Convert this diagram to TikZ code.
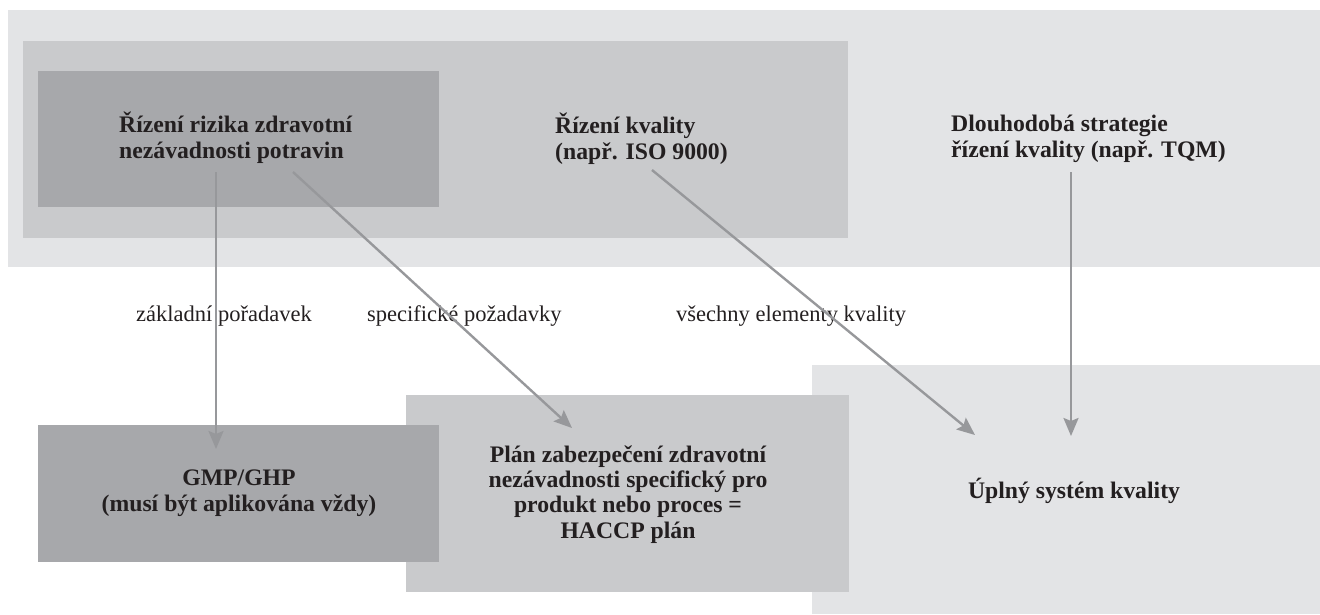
\documentclass[tikz,border=0pt]{standalone}
\usepackage{fontspec}
\setmainfont{Liberation Serif}
\usetikzlibrary{arrows.meta}
\definecolor{bandgrey}{HTML}{E3E4E6}
\definecolor{midgrey}{HTML}{C9CACC}
\definecolor{darkgrey}{HTML}{A7A8AB}
\definecolor{linkgrey}{HTML}{97989B}
\definecolor{ink}{HTML}{231F20}
\begin{document}
\begin{tikzpicture}[x=1pt,y=-1pt,
  panel/.style={draw=none, inner sep=0pt, outer sep=0pt, anchor=north west},
  title/.style={font=\fontsize{23.7}{25.3}\selectfont\bfseries, text=ink, inner sep=0pt},
  tag/.style={font=\fontsize{22.5}{25}\selectfont, text=ink, inner sep=0pt, anchor=base west},
  link/.style={draw=linkgrey, line width=2.4pt, -{Stealth[length=18pt,width=15pt,inset=3pt]}}]
\useasboundingbox (0,0) rectangle (1320,614);

% background panels
\node[panel, fill=bandgrey, minimum width=1312, minimum height=257] (band) at (8,10) {};
\node[panel, fill=midgrey, minimum width=825, minimum height=197] (quality) at (23,41) {};
\node[panel, fill=darkgrey, minimum width=401, minimum height=136] (risk) at (38,71) {};
\node[panel, fill=bandgrey, minimum width=508, minimum height=249] (total) at (812,365) {};
\node[panel, fill=midgrey, minimum width=443, minimum height=197] (haccp) at (406,395) {};
\node[panel, fill=darkgrey, minimum width=401, minimum height=137] (gmp) at (38,425) {};

% panel titles (base anchor = baseline of the last line)
\node[title, align=left, anchor=base west] (riskT) at (119,158) {Řízení rizika zdravotní\\nezávadnosti potravin};
\node[title, align=left, anchor=base west] (qualityT) at (555,159) {Řízení kvality\\(např. ISO 9000)};
\node[title, align=left, anchor=base west] (tqmT) at (951,157) {Dlouhodobá strategie\\řízení kvality (např. TQM)};
\node[title, align=center, anchor=base] (gmpT) at (239,511) {GMP/GHP\\(musí být aplikována vždy)};
\node[title, align=center, anchor=base] (haccpT) at (628,538) {Plán zabezpečení zdravotní\\nezávadnosti specifický pro\\produkt nebo proces =\\HACCP plán};
\node[title, anchor=base] (totalT) at (1074,498) {Úplný systém kvality};

% connector labels
\node[tag] (l1) at (136,321) {základní pořadavek};
\node[tag] (l2) at (367,321) {specifické požadavky};
\node[tag] (l3) at (676,321) {všechny elementy kvality};

% connectors
\coordinate (s1) at (216,172); \coordinate (e1) at (216,449);
\coordinate (s2) at (293,172); \coordinate (e2) at (572,428);
\coordinate (s3) at (652,170); \coordinate (e3) at (975,435);
\coordinate (s4) at (1071,172); \coordinate (e4) at (1071,436);
\draw[link] (s1) -- (e1);
\draw[link] (s2) -- (e2);
\draw[link] (s3) -- (e3);
\draw[link] (s4) -- (e4);
\end{tikzpicture}
\end{document}
